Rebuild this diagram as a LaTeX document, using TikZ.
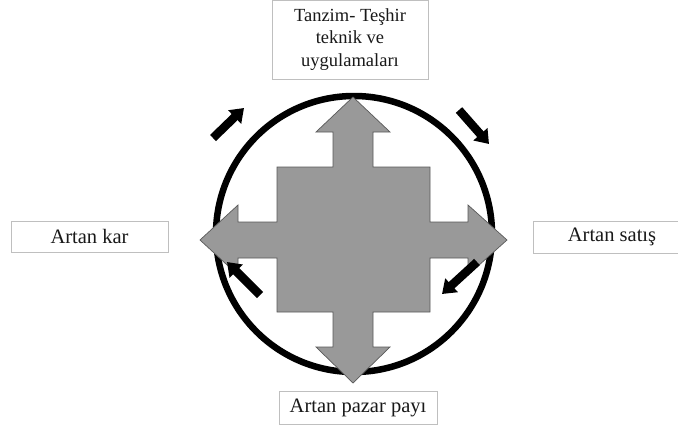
\documentclass[tikz,border=0pt]{standalone}
\usepackage{fontspec}
\setmainfont{Liberation Serif}
\usetikzlibrary{arrows.meta}

\tikzset{
  label box/.style={draw=black!25, line width=0.8pt, fill=white, inner sep=0pt,
    font=\fontsize{20.5}{24}\selectfont, text=black!90, align=center},
  ring/.style={circle, draw=black, line width=6.5pt, minimum size=276pt, inner sep=0pt},
  quad/.style={fill=black!40, draw=black!65, line width=0.7pt},
  turn/.style={line width=8.5pt, -{Triangle[length=13pt, width=18pt]}}
}

\begin{document}
\begin{tikzpicture}[x=1pt, y=-1pt]
    \useasboundingbox (0,0) rectangle (678,429);

    % Define nodes
    \node[label box, minimum width=156pt, minimum height=79pt,
          font=\fontsize{18.5}{22.5}\selectfont]               (top)    at (350,39.5)   {Tanzim- Teşhir\\teknik ve\\uygulamaları};
    \node[label box, minimum width=157pt, minimum height=31pt] (left)   at (89.5,236.5) {Artan kar};
    \node[label box, minimum width=158pt, minimum height=32pt] (right)  at (612,237)    {Artan satış};
    \node[label box, minimum width=158pt, minimum height=33pt] (bottom) at (358,407.5)  {Artan pazar payı};

    % Circle
    \node[ring] (cycle) at (354,234) {};

    % Four-way arrow
    \draw[quad] (353,97) -- (390,132) -- (373,132) -- (373,167) -- (430,167) -- (430,222)
      -- (468,222) -- (468,205) -- (507,240) -- (468,275) -- (468,258) -- (430,258)
      -- (430,312) -- (373,312) -- (373,347) -- (390,347) -- (353,383) -- (316,347)
      -- (333,347) -- (333,312) -- (277,312) -- (277,258) -- (238,258) -- (238,275)
      -- (200,240) -- (238,205) -- (238,222) -- (277,222) -- (277,167) -- (333,167)
      -- (333,132) -- (316,132) -- cycle;

    % Turning arrows
    \coordinate (tl-a) at (213,138); \coordinate (tl-b) at (244,108);
    \coordinate (tr-a) at (459,110); \coordinate (tr-b) at (489,144);
    \coordinate (br-a) at (477,262); \coordinate (br-b) at (442,294);
    \coordinate (bl-a) at (260,295); \coordinate (bl-b) at (227,262);

    % Connect the nodes
    \draw[turn] (tl-a) -- (tl-b);
    \draw[turn] (tr-a) -- (tr-b);
    \draw[turn] (br-a) -- (br-b);
    \draw[turn] (bl-a) -- (bl-b);

\end{tikzpicture}
\end{document}
